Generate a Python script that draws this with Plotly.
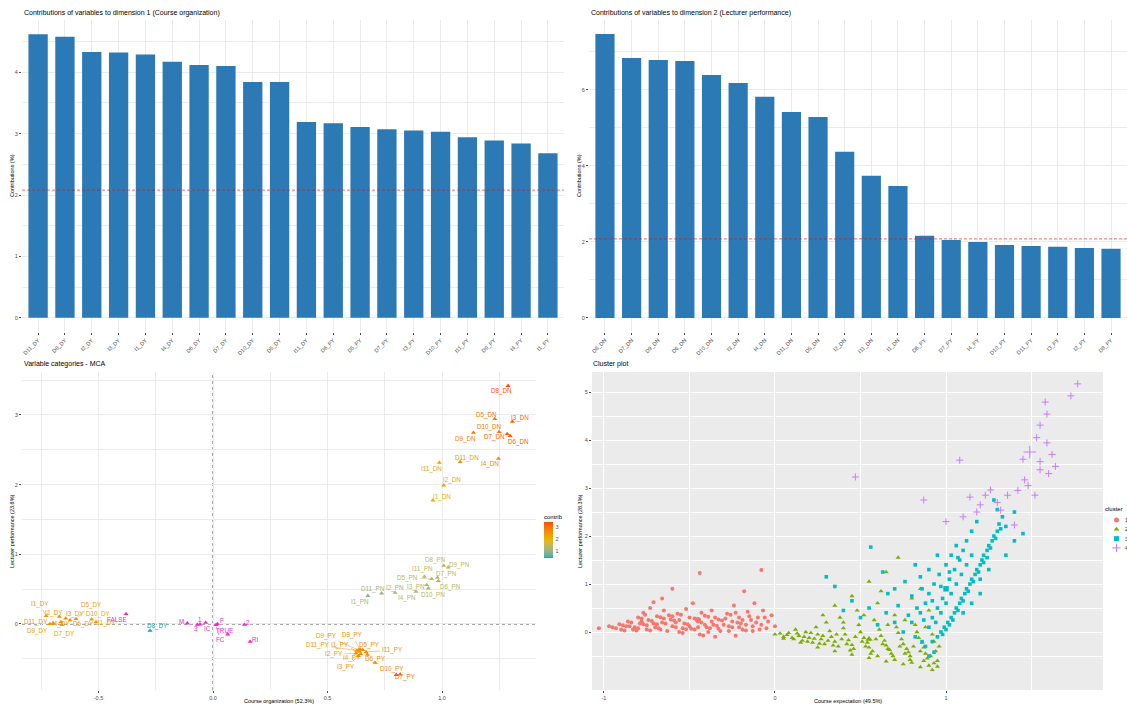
import plotly.graph_objects as go

W, H = 1127, 708

# ---------------- data ----------------
dim1_categories = ["D11_DY", "D8_DY", "I2_DY", "I3_DY", "I1_DY", "I4_DY", "D6_DY", "D7_DY", "D10_DY", "D5_DY",
                   "I11_DY", "D6_PY", "D5_PY", "D7_PY", "I3_PY", "D10_PY", "I11_PY", "D9_PY", "I4_PY", "I1_PY"]
dim1_contrib = [4.62, 4.58, 4.33, 4.32, 4.29, 4.17, 4.12, 4.10, 3.84, 3.84,
                3.19, 3.17, 3.11, 3.07, 3.05, 3.03, 2.94, 2.89, 2.84, 2.68]

dim2_categories = ["D8_DN", "D7_DN", "D9_DN", "D6_DN", "D10_DN", "I3_DN", "I4_DN", "D11_DN", "D5_DN", "I2_DN",
                   "I11_DN", "I1_DN", "D6_PY", "D7_PY", "I4_PY", "D10_PY", "D11_PY", "I3_PY", "I2_PY", "D8_PY"]
dim2_contrib = [7.47, 6.84, 6.79, 6.76, 6.39, 6.18, 5.82, 5.42, 5.29, 4.37,
                3.74, 3.47, 2.16, 2.05, 2.00, 1.92, 1.89, 1.87, 1.84, 1.82]

expected_contrib = 2.08

mca_labels = ["D8_DN", "D5_DN", "I3_DN", "D10_DN", "D9_DN", "D7_DN", "D6_DN", "D11_DN", "I4_DN", "I11_DN", "I2_DN", "I1_DN",
              "D8_PN", "D9_PN", "I11_PN", "D7_PN", "D5_PN", "D6_PN", "I3_PN", "D10_PN", "I2_PN", "I4_PN", "D11_PN", "I1_PN",
              "I1_DY", "I2_DY", "I3_DY", "D5_DY", "D6_DY", "D10_DY", "I11_DY", "D11_DY", "I4_DY", "D9_DY", "D7_DY", "D8_DY",
              "D9_PY", "D8_PY", "D11_PY", "I1_PY", "I2_PY", "D5_PY", "I11_PY", "I4_PY", "D6_PY", "I3_PY", "D10_PY", "D7_PY"]
mca_dim1 = [1.288, 1.230, 1.307, 1.249, 1.137, 1.284, 1.297, 1.079, 1.246, 0.988, 1.007, 0.960,
            1.007, 1.027, 0.923, 0.980, 0.955, 0.984, 0.933, 0.940, 0.795, 0.886, 0.736, 0.676,
            -0.729, -0.671, -0.643, -0.598, -0.624, -0.530, -0.511, -0.697, -0.664, -0.712, -0.659, -0.275,
            0.635, 0.642, 0.627, 0.639, 0.624, 0.654, 0.668, 0.645, 0.674, 0.635, 0.707, 0.817]
mca_dim2 = [3.416, 2.941, 2.903, 2.755, 2.745, 2.726, 2.697, 2.324, 2.372, 2.314, 1.990, 1.775,
            0.836, 0.813, 0.678, 0.664, 0.646, 0.617, 0.560, 0.512, 0.449, 0.463, 0.440, 0.405,
            0.115, 0.105, 0.082, 0.072, 0.057, 0.067, 0.029, 0.010, 0.029, 0.000, -0.014, -0.096,
            -0.373, -0.363, -0.383, -0.397, -0.421, -0.373, -0.402, -0.430, -0.440, -0.459, -0.555, -0.722]
mca_contrib = [3.47, 2.95, 3.20, 3.00, 2.90, 3.25, 3.30, 2.60, 2.75, 2.25, 2.30, 2.10,
               1.45, 1.45, 1.30, 1.40, 1.35, 1.40, 1.30, 1.30, 1.20, 1.25, 1.15, 1.05,
               2.45, 2.50, 2.50, 2.45, 2.50, 2.35, 2.30, 2.55, 2.50, 2.45, 2.45, 0.42,
               2.60, 2.60, 2.55, 2.55, 2.55, 2.65, 2.60, 2.60, 2.70, 2.60, 2.75, 3.05]

sup_labels = ["FALSE", "M", "1", "3", "IC", "F", "FC", "2", "TRUE", "RI", ""]
sup_dim1 = [-0.380, -0.112, -0.057, -0.069, -0.032, 0.019, 0.013, 0.137, 0.064, 0.162, 0.800]
sup_dim2 = [0.144, 0.010, -0.005, -0.010, 0.019, 0.000, -0.014, -0.010, -0.148, -0.254, -0.730]

mca_xticks = [-0.5, 0.0, 0.5, 1.0]
mca_xtick_labels = ["-0.5", "0.0", "0.5", "1.0"]
mca_yticks = [0, 1, 2, 3]
cluster_xticks = [-1, 0, 1]
cluster_xtick_labels = ["-1", "0", "1"]
cluster_yticks = [0, 1, 2, 3, 4, 5]
cluster_names = ["1", "2", "3", "4"]

cluster1_points = [(-1.08, 0.07), (-1.03, 0.08), (-0.97, 0.12), (-0.95, 0.10), (-0.93, 0.08), (-0.91, 0.16),
                   (-0.89, 0.14), (-0.87, 0.12), (-0.86, 0.22), (-0.84, 0.20), (-0.83, 0.05), (-0.81, 0.03),
                   (-0.80, 0.30), (-0.78, 0.28), (-0.77, 0.40), (-0.76, 0.36), (-0.79, 0.18), (-0.77, 0.16),
                   (-0.75, 0.14), (-0.74, 0.25), (-0.72, 0.23), (-0.73, 0.50), (-0.71, 0.62), (-0.70, 0.10),
                   (-0.68, 0.08), (-0.69, 0.33), (-0.67, 0.31), (-0.66, 0.20), (-0.64, 0.18), (-0.65, 0.45),
                   (-0.66, 0.70), (-0.63, 0.02), (-0.61, 0.26), (-0.59, 0.24), (-0.60, 0.12), (-0.58, 0.10),
                   (-0.57, 0.38), (-0.55, 0.36), (-0.56, 0.00), (-0.54, -0.02), (-0.53, 0.18), (-0.51, 0.16),
                   (-0.52, 0.48), (-0.50, 0.30), (-0.49, 0.07), (-0.47, 0.05), (-0.48, 0.60), (-0.45, 0.22),
                   (-0.43, 0.20), (-0.44, -0.05), (-0.42, -0.07), (-0.41, 0.34), (-0.39, 0.32), (-0.40, 0.10),
                   (-0.38, 0.08), (-0.37, 0.45), (-0.36, 0.15), (-0.34, 0.13), (-0.35, -0.10), (-0.33, 0.26),
                   (-0.31, 0.24), (-0.32, 0.02), (-0.28, 0.38), (-0.26, 0.36), (-0.27, 0.12), (-0.25, 0.10),
                   (-0.24, 0.55), (-0.22, 0.20), (-0.20, 0.18), (-0.23, -0.08), (-0.21, 0.30), (-0.19, 0.05),
                   (-0.17, 0.03), (-0.18, 0.85), (-0.16, 0.42), (-0.14, 0.25), (-0.13, 0.12), (-0.12, 0.60),
                   (-0.10, 0.30), (-0.08, 0.15), (-0.07, 0.45), (-0.05, 0.08), (-0.04, 0.22), (-0.02, 0.35),
                   (0.00, 0.12), (-0.08, 1.29), (-0.44, 1.23), (-0.60, 0.90),
                   (-0.90, 0.05), (-0.88, 0.03), (-0.85, 0.12), (-0.82, 0.10), (-0.80, 0.08), (-0.78, 0.22),
                   (-0.75, 0.05), (-0.73, 0.03), (-0.71, 0.18), (-0.69, 0.16), (-0.67, 0.05), (-0.65, 0.28),
                   (-0.62, 0.35), (-0.60, 0.33), (-0.58, 0.20), (-0.56, 0.25), (-0.54, 0.08), (-0.52, 0.06),
                   (-0.50, 0.12), (-0.47, 0.28), (-0.45, 0.10), (-0.43, 0.40), (-0.41, 0.15), (-0.39, 0.00),
                   (-0.37, 0.22), (-0.35, 0.30), (-0.33, 0.07), (-0.30, 0.15), (-0.29, 0.28), (-0.27, 0.02),
                   (-0.25, 0.22), (-0.23, 0.40), (-0.21, 0.10), (-0.19, 0.25), (-0.17, 0.15), (-0.15, 0.33),
                   (-0.13, 0.02), (-0.11, 0.20), (-0.09, 0.05), (-0.06, 0.30)]
cluster2_points = [(0.00, -0.05), (0.05, -0.10), (0.08, -0.02), (0.10, -0.12), (0.12, 0.05), (0.14, -0.08),
                   (0.16, -0.18), (0.18, 0.00), (0.20, -0.12), (0.22, -0.22), (0.24, 0.10), (0.25, -0.05),
                   (0.27, -0.15), (0.29, -0.25), (0.30, 0.20), (0.32, 0.02), (0.33, -0.10), (0.35, -0.20),
                   (0.37, -0.30), (0.38, 0.30), (0.40, 0.08), (0.41, -0.05), (0.43, -0.17), (0.45, -0.27),
                   (0.46, -0.35), (0.48, 0.45), (0.49, 0.15), (0.50, 0.00), (0.52, -0.12), (0.54, -0.22),
                   (0.55, -0.32), (0.57, -0.40), (0.58, 0.25), (0.60, 0.60), (0.61, 0.05), (0.62, -0.08),
                   (0.64, -0.18), (0.65, -0.28), (0.67, -0.37), (0.68, -0.45), (0.70, 0.35), (0.71, 0.10),
                   (0.72, -0.02), (0.74, -0.15), (0.75, -0.25), (0.77, -0.35), (0.78, -0.42), (0.79, -0.50),
                   (0.80, 0.70), (0.82, 0.15), (0.83, 0.00), (0.84, -0.12), (0.86, -0.22), (0.87, -0.32),
                   (0.88, -0.45), (0.89, -0.55), (0.90, 0.45), (0.92, -0.05), (0.93, -0.20), (0.94, -0.40),
                   (0.95, -0.60), (0.96, -0.30), (0.55, 1.05), (0.65, 1.25), (0.72, 1.55), (0.45, 0.75),
                   (0.35, 0.55), (0.85, 0.90), (0.28, 0.35), (0.62, 0.85), (0.05, -0.14), (0.15, -0.22),
                   (0.25, -0.32), (0.35, -0.40), (0.45, -0.47), (0.55, -0.54), (0.65, -0.61), (0.75, -0.67),
                   (0.85, -0.73), (0.92, -0.79), (0.60, -0.50), (0.70, -0.58), (0.80, -0.64), (0.90, -0.70),
                   (0.03, -0.03), (0.07, -0.06), (0.11, -0.15), (0.13, -0.03), (0.17, -0.10), (0.19, -0.20),
                   (0.21, -0.02), (0.23, -0.14), (0.26, -0.24), (0.28, -0.08), (0.31, -0.18), (0.34, -0.28),
                   (0.36, -0.05), (0.39, -0.15), (0.42, -0.25), (0.44, -0.38), (0.47, -0.10), (0.51, -0.20),
                   (0.53, -0.30), (0.56, -0.45), (0.59, -0.15), (0.63, -0.25), (0.66, -0.35), (0.69, -0.50),
                   (0.73, -0.30), (0.76, -0.45), (0.79, -0.58), (0.81, -0.30), (0.85, -0.40), (0.87, -0.60),
                   (0.91, -0.50), (0.93, -0.65), (0.95, -0.72), (0.40, 0.20), (0.52, 0.35), (0.66, 0.15),
                   (0.76, 0.25), (0.88, 0.10)]
cluster3_points = [(0.88, -0.30), (0.92, -0.20), (0.95, -0.10), (0.97, 0.00), (0.99, 0.10), (1.01, 0.20),
                   (1.03, 0.30), (1.05, 0.40), (1.06, 0.50), (1.08, 0.60), (1.09, 0.70), (1.11, 0.80),
                   (1.12, 0.90), (1.14, 1.00), (1.15, 1.10), (1.17, 1.20), (1.18, 1.30), (1.20, 1.40),
                   (1.21, 1.50), (1.22, 1.60), (1.24, 1.70), (1.25, 1.80), (1.27, 1.90), (1.28, 2.00),
                   (1.30, 2.10), (1.31, 2.25), (1.33, 2.40), (1.30, 2.55), (1.28, 2.75), (0.90, 0.10),
                   (0.92, 0.30), (0.95, 0.50), (0.98, 0.70), (1.00, 0.90), (1.02, 1.10), (1.05, 1.30),
                   (1.08, 1.50), (1.10, 1.70), (1.12, 1.90), (1.15, 2.10), (1.18, 2.30), (0.85, 0.40),
                   (0.88, 0.60), (0.90, 0.80), (0.93, 1.00), (0.96, 1.20), (1.00, 1.40), (1.03, 1.60),
                   (1.06, 1.80), (0.80, 0.20), (0.83, 0.50), (0.86, 0.90), (0.90, 1.30), (0.95, 1.60),
                   (0.75, 0.00), (0.78, 0.35), (0.70, 0.20), (0.72, 0.55), (0.65, 0.40), (0.60, 0.15),
                   (0.55, 0.50), (0.50, 0.30), (0.45, 0.65), (0.40, 0.45), (0.35, 0.95), (0.30, 1.15),
                   (0.56, 1.77), (0.63, 1.25), (0.66, 0.80), (0.76, 1.05), (0.82, 1.40), (1.20, 1.10),
                   (1.25, 1.30), (1.35, 1.60), (1.40, 1.90), (1.45, 2.05), (1.35, 2.20), (1.40, 2.50),
                   (1.10, 0.40), (1.15, 0.60), (1.20, 0.80), (0.90, -0.50), (0.93, -0.42), (0.86, -0.20),
                   (0.82, -0.10),
                   (0.98, -0.05), (1.00, 0.05), (1.02, 0.15), (1.04, 0.25), (1.07, 0.45), (1.10, 0.65),
                   (1.13, 0.85), (1.16, 1.05), (1.19, 1.25), (1.22, 1.45), (1.24, 1.55), (1.26, 1.75),
                   (1.29, 1.95), (1.32, 2.15), (0.94, 0.20), (0.97, 0.40), (1.00, 0.60), (1.03, 0.80),
                   (1.06, 1.00), (1.09, 1.20), (1.12, 1.40), (1.15, 1.60), (0.87, 0.25), (0.92, 0.65),
                   (0.97, 0.95), (1.02, 1.25), (1.07, 1.55), (0.80, 0.75), (0.85, 1.15), (0.70, 0.90)]
cluster4_points = [(1.77, 5.17), (1.73, 4.92), (1.58, 4.79), (1.59, 4.54), (1.55, 4.31), (1.53, 4.05),
                   (1.59, 3.94), (1.62, 3.70), (1.55, 3.55), (1.55, 3.38), (1.46, 3.17), (1.52, 2.85),
                   (1.36, 2.85), (1.23, 2.85), (1.26, 2.96), (1.14, 2.81), (1.08, 3.58), (0.47, 3.23),
                   (0.87, 2.75), (1.32, 2.54), (1.40, 2.23), (1.30, 2.70), (1.20, 2.65), (1.42, 2.95),
                   (1.48, 3.05), (1.60, 3.30), (1.64, 3.45), (1.45, 3.60), (1.10, 2.40), (1.00, 2.30),
                   (1.18, 2.50)]
cluster_centers = [(-0.45, 0.25), (0.55, -0.15), (1.00, 0.90), (1.49, 3.75)]

# ---------------- label placement (pixel offsets, style only) ----------------
mca_label_offsets = [(-7, 5), (-8, -4), (8, -4), (-10, -5), (-8, 6), (-13, 3), (8, 6), (7, -4), (-8, 5), (-8, 6), (8, -5), (9, -3),
                     (-8, -6), (11, -2), (-2, -8), (9, -4), (-24, -1), (12, 6), (-11, 2), (5, 7), (0, -5), (-9, 6), (-9, -4), (-8, 6),
                     (-6, -12), (-5, -4), (9, -4), (15, -14), (13, 4), (7, -5), (10, 1), (-17, -1), (0, 2), (-12, 7), (2, 9), (7, -5),
                     (-32, -14), (-8, -14), (-39, -6), (-19, -7), (-22, 1), (7, -5), (26, -2), (-9, 4), (8, 4), (-12, 11), (17, 6), (5, 3)]
sup_label_offsets = [(-9, 6), (-6, -2), (0, -5), (-1, 4), (2, 6), (5, -3), (4, 15), (4, -2), (-3, -4), (5, -2), (0, 0)]

# ---------------- style ----------------
FONT = "Liberation Sans"
TICK_C = "#4D4D4D"
GRID = "#EBEBEB"
BAR_C = "#2B79B5"
SUP_C = "#F028D2"
CL_COLORS = ["#F8766D", "#7CAE00", "#00BFC4", "#C77CFF"]
CL_SYMBOLS = ["circle", "triangle-up", "square", "cross-thin"]
CL_SIZES = [4, 4.5, 3.6, 5]
CENTER_SIZES = [6, 6.5, 5.5, 9]


def hex_to_rgb(h):
    return tuple(int(h[i:i + 2], 16) for i in (1, 3, 5))


def rgb_to_lab(rgb):
    def lin(c):
        c = c / 255.0
        return c / 12.92 if c <= 0.04045 else ((c + 0.055) / 1.055) ** 2.4
    r, g, b = (lin(c) for c in rgb)
    X = (0.4124 * r + 0.3576 * g + 0.1805 * b) / 0.95047
    Y = 0.2126 * r + 0.7152 * g + 0.0722 * b
    Z = (0.0193 * r + 0.1192 * g + 0.9505 * b) / 1.08883

    def f(t):
        return t ** (1 / 3) if t > 0.008856 else 7.787 * t + 16 / 116
    fx_, fy_, fz_ = f(X), f(Y), f(Z)
    return (116 * fy_ - 16, 500 * (fx_ - fy_), 200 * (fy_ - fz_))


def lab_to_hex(lab):
    L, a, b = lab
    fy_ = (L + 16) / 116
    fx_ = fy_ + a / 500
    fz_ = fy_ - b / 200

    def finv(t):
        return t ** 3 if t ** 3 > 0.008856 else (t - 16 / 116) / 7.787
    X = finv(fx_) * 0.95047
    Y = finv(fy_)
    Z = finv(fz_) * 1.08883
    r = 3.2406 * X - 1.5372 * Y - 0.4986 * Z
    g = -0.9689 * X + 1.8758 * Y + 0.0415 * Z
    bb = 0.0557 * X - 0.2040 * Y + 1.0570 * Z

    def gam(c):
        c = min(max(c, 0.0), 1.0)
        c = 12.92 * c if c <= 0.0031308 else 1.055 * c ** (1 / 2.4) - 0.055
        return int(round(min(max(c, 0.0), 1.0) * 255))
    return "#%02X%02X%02X" % (gam(r), gam(g), gam(bb))


GRAD = ["#00AFBB", "#E7B800", "#FC4E07"]
GRAD_LAB = [rgb_to_lab(hex_to_rgb(h)) for h in GRAD]


def grad_color(t):
    t = min(max(t, 0.0), 1.0)
    if t <= 0.5:
        a, b, u = GRAD_LAB[0], GRAD_LAB[1], t / 0.5
    else:
        a, b, u = GRAD_LAB[1], GRAD_LAB[2], (t - 0.5) / 0.5
    return lab_to_hex(tuple(a[i] + (b[i] - a[i]) * u for i in range(3)))


CMIN, CMAX = min(mca_contrib), max(mca_contrib)
colorscale = [[i / 20, grad_color(i / 20)] for i in range(21)]


def fx(px):
    return px / W


def fy(py):
    return 1 - py / H


def marker_line(sym, col):
    return dict(width=1, color=col) if sym == "cross-thin" else dict(width=0)


fig = go.Figure()

# ---- top-left bars ----
fig.add_trace(go.Bar(x=dim1_categories, y=dim1_contrib, marker=dict(color=BAR_C, line=dict(width=0)),
                     width=0.72, xaxis="x", yaxis="y", showlegend=False))
# ---- top-right bars ----
fig.add_trace(go.Bar(x=dim2_categories, y=dim2_contrib, marker=dict(color=BAR_C, line=dict(width=0)),
                     width=0.72, xaxis="x2", yaxis="y2", showlegend=False))

# ---- MCA variable categories ----
fig.add_trace(go.Scatter(x=mca_dim1, y=mca_dim2, mode="markers", xaxis="x3", yaxis="y3", showlegend=False,
                         marker=dict(symbol="triangle-up", size=4.5, color=mca_contrib, coloraxis="coloraxis",
                                     line=dict(width=0))))
fig.add_trace(go.Scatter(x=sup_dim1, y=sup_dim2, mode="markers", xaxis="x3", yaxis="y3", showlegend=False,
                         marker=dict(symbol="triangle-up", size=4.5, color=SUP_C, line=dict(width=0))))

# ---- cluster plot ----
for pts, col, sym, sz in zip([cluster1_points, cluster2_points, cluster3_points, cluster4_points],
                             CL_COLORS, CL_SYMBOLS, CL_SIZES):
    xs = [p[0] for p in pts]
    ys = [p[1] for p in pts]
    fig.add_trace(go.Scatter(x=xs, y=ys, mode="markers", xaxis="x4", yaxis="y4", showlegend=False,
                             marker=dict(symbol=sym, size=sz, color=col, line=marker_line(sym, col))))
for (cx, cy), col, sym, sz in zip(cluster_centers, CL_COLORS, CL_SYMBOLS, CENTER_SIZES):
    fig.add_trace(go.Scatter(x=[cx], y=[cy], mode="markers", xaxis="x4", yaxis="y4", showlegend=False,
                             marker=dict(symbol=sym, size=sz, color=col, line=marker_line(sym, col))))

# ---- manual legend for cluster plot (hidden axes, pixel-like units) ----
for i, (col, sym) in enumerate(zip(CL_COLORS, CL_SYMBOLS)):
    fig.add_trace(go.Scatter(x=[16.5], y=[i], mode="markers", cliponaxis=False,
                             xaxis="x5", yaxis="y5", showlegend=False,
                             marker=dict(symbol=sym, size=5 if sym != "cross-thin" else 6, color=col,
                                         line=marker_line(sym, col))))
fig.add_trace(go.Scatter(x=[5], y=[-1.1], mode="text", text=["cluster"], textposition="middle right",
                         cliponaxis=False, xaxis="x5", yaxis="y5", showlegend=False,
                         textfont=dict(size=6, color="#000000", family="Liberation Sans")))

annotations = []
shapes = []

# Titles
for txt, x, y in [("Contributions of variables to dimension 1 (Course organization)", 22, 13.5),
                  ("Contributions of variables to dimension 2 (Lecturer performance)", 589, 13.5),
                  ("Variable categories - MCA", 22, 364),
                  ("Cluster plot", 591, 364)]:
    annotations.append(dict(text=txt, x=fx(x), y=fy(y), xref="paper", yref="paper", xanchor="left",
                            yanchor="middle", showarrow=False, font=dict(size=7, color="#000000", family=FONT)))

# axis titles
for txt, x, y, ang in [("Contributions (%)", 12, 176, -90),
                       ("Contributions (%)", 579, 176, -90),
                       ("Lecturer performance (23.8%)", 12, 531, -90),
                       ("Course organization (52.3%)", 279, 701, 0),
                       ("Lecturer performance (28.3%)", 580, 531, -90),
                       ("Course expectation (49.5%)", 848, 701, 0)]:
    annotations.append(dict(text=txt, x=fx(x), y=fy(y), xref="paper", yref="paper", xanchor="center",
                            yanchor="middle", showarrow=False, textangle=ang,
                            font=dict(size=5.5, color="#000000", family=FONT)))

# cluster legend key labels
for i, name in enumerate(cluster_names):
    annotations.append(dict(text=name, x=fx(1123), y=fy(520 + 9.3 * i), xref="paper", yref="paper", xanchor="left",
                            yanchor="middle", showarrow=False, font=dict(size=5.5, color="#1A1A1A", family=FONT)))

# MCA labels
for lab, x, y, c, (dx, dy) in zip(mca_labels, mca_dim1, mca_dim2, mca_contrib, mca_label_offsets):
    col = grad_color((c - CMIN) / (CMAX - CMIN))
    far = (dx * dx + dy * dy) ** 0.5 > 13
    annotations.append(dict(text=lab, x=x, y=y, xref="x3", yref="y3", ax=dx, ay=dy, showarrow=True,
                            arrowhead=0, arrowwidth=0.5, arrowcolor=col if far else "rgba(0,0,0,0)",
                            standoff=1.5, font=dict(size=6.3, color=col, family=FONT)))
for lab, x, y, (dx, dy) in zip(sup_labels, sup_dim1, sup_dim2, sup_label_offsets):
    if not lab:
        continue
    far = (dx * dx + dy * dy) ** 0.5 > 13
    annotations.append(dict(text=lab, x=x, y=y, xref="x3", yref="y3", ax=dx, ay=dy, showarrow=True,
                            arrowhead=0, arrowwidth=0.5, arrowcolor=SUP_C if far else "rgba(0,0,0,0)",
                            standoff=1.5, font=dict(size=6.3, color=SUP_C, family=FONT)))

# red dashed expected lines
for yref, xref in [("y", "x domain"), ("y2", "x2 domain")]:
    shapes.append(dict(type="line", xref=xref, yref=yref, x0=0, x1=1, y0=expected_contrib, y1=expected_contrib,
                       line=dict(color="#FF0000", width=0.6, dash="3px,2px"), layer="above"))
# MCA dotted zero lines
shapes.append(dict(type="line", xref="x3 domain", yref="y3", x0=0, x1=1, y0=0, y1=0,
                   line=dict(color="#000000", width=0.7, dash="dot"), layer="below"))
shapes.append(dict(type="line", xref="x3", yref="y3 domain", x0=0, x1=0, y0=0, y1=1,
                   line=dict(color="#000000", width=0.7, dash="dot"), layer="below"))
# cluster panel background
shapes.append(dict(type="rect", xref="x4 domain", yref="y4 domain", x0=0, x1=1, y0=0, y1=1,
                   fillcolor="#EBEBEB", line=dict(width=0), layer="below"))

tickfont = dict(size=5.5, color=TICK_C, family=FONT)
common = dict(zeroline=False, showline=False, ticks="outside", ticklen=2, tickwidth=0.5, tickcolor="#4D4D4D",
              tickfont=tickfont, gridwidth=0.8)

layout = dict(
    width=W, height=H, margin=dict(l=0, r=0, t=0, b=0), autosize=False,
    paper_bgcolor="#FFFFFF", plot_bgcolor="rgba(0,0,0,0)", font=dict(family=FONT),
    xaxis=dict(domain=[fx(22), fx(564)], anchor="y", type="category", range=[-0.6, 19.6], tickangle=-45,
               showgrid=True, gridcolor=GRID, **common),
    yaxis=dict(domain=[fy(332), fy(20)], anchor="x", range=[-0.231, 4.851], tick0=0, dtick=1,
               showgrid=True, gridcolor=GRID, minor=dict(dtick=0.5, showgrid=True, gridcolor=GRID, gridwidth=0.4),
               **common),
    xaxis2=dict(domain=[fx(589), fx(1127)], anchor="y2", type="category", range=[-0.6, 19.6], tickangle=-45,
                showgrid=True, gridcolor=GRID, **common),
    yaxis2=dict(domain=[fy(332), fy(20)], anchor="x2", range=[-0.37, 7.84], tick0=0, dtick=2,
                showgrid=True, gridcolor=GRID, minor=dict(dtick=1, showgrid=True, gridcolor=GRID, gridwidth=0.4),
                **common),
    xaxis3=dict(domain=[fx(22), fx(536)], anchor="y3", range=[-0.834, 1.410], tickvals=mca_xticks,
                ticktext=mca_xtick_labels, showgrid=True, gridcolor=GRID,
                minor=dict(tickvals=[-0.75, -0.25, 0.25, 0.75, 1.25], showgrid=True, gridcolor=GRID, gridwidth=0.4, ticks=""),
                **common),
    yaxis3=dict(domain=[fy(690), fy(372)], anchor="x3", range=[-0.947, 3.615], tickvals=mca_yticks,
                showgrid=True, gridcolor=GRID,
                minor=dict(tickvals=[-0.5, 0.5, 1.5, 2.5, 3.5], showgrid=True, gridcolor=GRID, gridwidth=0.4, ticks=""),
                **common),
    xaxis4=dict(domain=[fx(592), fx(1103)], anchor="y4", range=[-1.070, 1.918], tickvals=cluster_xticks,
                ticktext=cluster_xtick_labels, showgrid=True, gridcolor="#FFFFFF",
                minor=dict(tickvals=[-0.5, 0.5, 1.5], showgrid=True, gridcolor="#FFFFFF", gridwidth=0.4, ticks=""),
                **common),
    yaxis4=dict(domain=[fy(690), fy(372)], anchor="x4", range=[-1.208, 5.417], tickvals=cluster_yticks,
                showgrid=True, gridcolor="#FFFFFF",
                minor=dict(tickvals=[-0.5, 0.5, 1.5, 2.5, 3.5, 4.5], showgrid=True, gridcolor="#FFFFFF", gridwidth=0.4, ticks=""),
                **common),
    xaxis5=dict(domain=[fx(1100), fx(1127)], anchor="y5", range=[0, 27], visible=False, fixedrange=True),
    yaxis5=dict(domain=[fy(553), fy(505)], anchor="x5", range=[3.55, -1.63], visible=False, fixedrange=True),
    coloraxis=dict(cmin=CMIN, cmax=CMAX, colorscale=colorscale,
                   colorbar=dict(x=fx(544), xanchor="left", xpad=0, ypad=0, y=fy(534.5), yanchor="middle",
                                 len=47, lenmode="pixels",
                                 thickness=9, outlinewidth=0, tickvals=[1, 2, 3], ticks="outside", ticklen=2,
                                 tickcolor="#FFFFFF", tickfont=tickfont,
                                 title=dict(text="contrib", side="top", font=dict(size=6, color="#000000", family=FONT)))),
    annotations=annotations, shapes=shapes, showlegend=False,
)
fig.update_layout(**layout)

fig.write_html("out.html", config={"displayModeBar": False},
               post_script="document.body.style.margin='0';document.body.style.overflow='hidden';")
